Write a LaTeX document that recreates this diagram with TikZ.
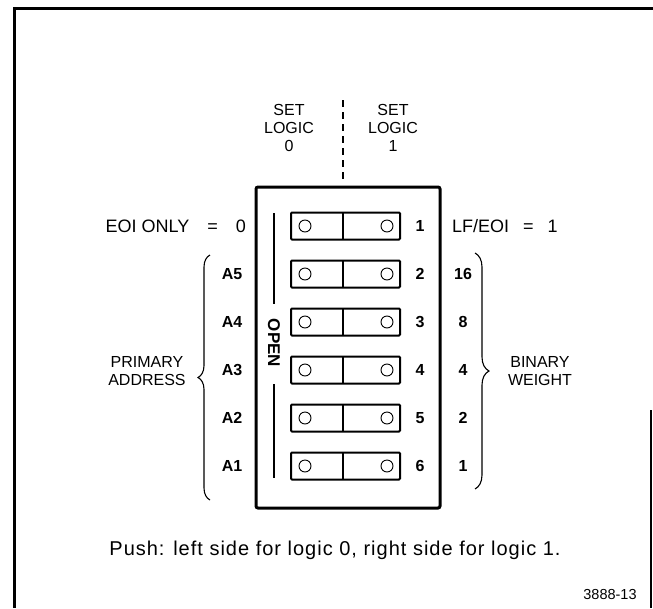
\documentclass[tikz,border=0pt]{standalone}
\usepackage{fontspec}
\setmainfont{Liberation Sans}
\newfontfamily\capfont[LetterSpace=5]{Liberation Sans}
\usetikzlibrary{decorations.pathreplacing}
\begin{document}
\begin{tikzpicture}[x=1pt,y=-1pt,
  lbl/.style={font=\fontsize{16}{18}\selectfont, inner sep=0pt, align=center},
  blbl/.style={font=\fontsize{16}{18}\selectfont\bfseries, inner sep=0pt, align=center},
  wlbl/.style={font=\fontsize{18}{20}\selectfont, inner sep=0pt},
  swbox/.style={draw, line width=2pt, minimum width=109pt, minimum height=27pt, inner sep=0pt, rounded corners=1pt},
  swdot/.style={draw, circle, line width=0.9pt, minimum size=12pt, inner sep=0pt},
  bracestyle/.style={decorate, line width=1.1pt},
]
\useasboundingbox (0,0) rectangle (653,608);
% outer frame
\coordinate (fTR) at (653,8);
\coordinate (fTL) at (14,8);
\coordinate (fBL) at (14,608);
\coordinate (fRT) at (651,410);
\coordinate (fRB) at (651,608);
\draw[line width=3pt] (fTR) -- (fTL) -- (fBL);
\draw[line width=2pt] (fRT) -- (fRB);
% switch body
\node[draw, line width=3pt, rounded corners=2pt, minimum width=184pt, minimum height=321pt, inner sep=0pt] (body) at (348,347.5) {};
% set logic labels
\node[lbl] (set0) at (289,128) {SET\\LOGIC\\0};
\node[lbl] (set1) at (393,128) {SET\\LOGIC\\1};
\coordinate (dTop) at (343,100);
\coordinate (dBot) at (343,181);
\draw[line width=1.3pt, dash pattern=on 7pt off 5pt] (dTop) -- (dBot);
% switches
\foreach \i/\y in {1/226,2/274,3/322,4/370,5/418,6/466}{
  \node[swbox] (sw\i) at (345.5,\y) {};
  \coordinate (swt\i) at (343,\y-13.5);
  \coordinate (swb\i) at (343,\y+13.5);
  \draw[line width=1.2pt] (swt\i) -- (swb\i);
  \node[swdot] (dl\i) at (305,\y) {};
  \node[swdot] (dr\i) at (387,\y) {};
  \node[blbl] (n\i) at (420,\y) {\i};
}
% OPEN
\node[blbl, rotate=-90, font=\fontsize{17}{18}\selectfont\bfseries] (open) at (274,343) {OPEN};
\coordinate (oA) at (274,213);
\coordinate (oB) at (274,304);
\coordinate (oC) at (274,384);
\coordinate (oD) at (274,478);
\draw[line width=1.2pt] (oA) -- (oB);
\draw[line width=1.2pt] (oC) -- (oD);
% left labels
\node[wlbl, anchor=east] (eoi) at (246,226) {EOI ONLY\hspace{18pt}=\hspace{18pt}0};
\foreach \i/\a in {2/A5,3/A4,4/A3,5/A2,6/A1}{
  \node[blbl] (a\i) at (232,{178+48*\i}) {\a};
}
\node[lbl] (prim) at (147,371) {PRIMARY\\ADDRESS};
\coordinate (lbB) at (210,500);
\coordinate (lbT) at (210,255);
\draw[bracestyle, decoration={brace, amplitude=12pt}] (lbB) -- (lbT);
% right labels
\node[wlbl, anchor=west] (lfeoi) at (452,226) {LF/EOI\hspace{14pt}=\hspace{14pt}1};
\foreach \i/\w in {2/16,3/8,4/4,5/2,6/1}{
  \node[blbl] (w\i) at (463,{178+48*\i}) {\w};
}
\node[lbl] (bin) at (540,371) {BINARY\\WEIGHT};
\coordinate (rbT) at (475,253);
\coordinate (rbB) at (475,489);
\draw[bracestyle, decoration={brace, amplitude=14pt}] (rbT) -- (rbB);
% caption
\node[font=\capfont\fontsize{20}{22}\selectfont, inner sep=0pt, anchor=base] (push) at (335,555) {Push: left side for logic 0, right side for logic 1.};
\node[font=\fontsize{14.5}{16}\selectfont, inner sep=0pt] (fig) at (610,594) {3888-13};
\end{tikzpicture}
\end{document}
